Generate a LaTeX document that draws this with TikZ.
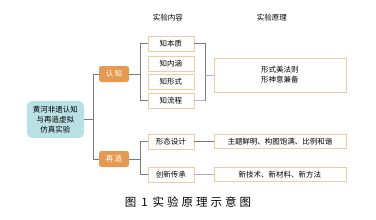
\documentclass[tikz,border=0pt]{standalone}
\usepackage{fontspec}
\newfontfamily\cjk{Noto Sans CJK SC}
\definecolor{boxline}{HTML}{F5C9A2}
\definecolor{boxfill}{HTML}{E59A52}
\definecolor{mainfill}{HTML}{B9E0E4}
\definecolor{connline}{HTML}{7A7A7A}
\definecolor{lavline}{HTML}{B3AEDB}
\tikzset{
    txt/.style={font=\cjk\fontsize{7.5}{10}\selectfont, inner sep=0pt},
    itembox/.style={txt, draw=boxline, line width=0.8pt, fill=white, minimum width=46pt, minimum height=15pt},
    rulebox/.style={txt, draw=boxline, line width=0.8pt, fill=white, minimum width=132pt, minimum height=14pt},
    stagebox/.style={txt, fill=boxfill, text=white, rounded corners=2.5pt, minimum width=30pt, minimum height=16pt},
    conn/.style={draw=connline, line width=0.7pt},
    lav/.style={draw=lavline, line width=0.7pt}
}
\newcommand{\gap}{\hspace{3pt}}
\begin{document}
\begin{tikzpicture}[x=1pt, y=-1pt]
    \useasboundingbox (0,0) rectangle (376,220);

    % column heads
    \node[txt] (headA) at (168,18) {实验内容};
    \node[txt] (headB) at (272,18) {实验原理};

    % main node and the two stages
    \node[txt, fill=mainfill, rounded corners=5pt, minimum width=57pt, minimum height=37pt, align=center] (main) at (55.5,119.5) {黄河非遗认知\\与再造虚拟\\仿真实验};
    \node[stagebox] (renzhi) at (114,74) {认\,知};
    \node[stagebox] (zaizao) at (114,159) {再\,造};

    % content boxes
    \node[itembox] (zbz) at (171,43.5) {知本质};
    \node[itembox] (znh) at (171,63.5) {知内涵};
    \node[itembox] (zxs) at (171,82) {知形式};
    \node[itembox] (zlc) at (171,100.5) {知流程};
    \node[itembox] (xtsj) at (171,141.5) {形态设计};
    \node[itembox] (cxcc) at (171,174.5) {创新传承};

    % principle boxes
    \node[rulebox, minimum height=34pt, align=center] (yl1) at (280,75) {形式美法则\\形神意兼备};
    \node[rulebox] (yl2) at (280,141.5) {主题鲜明、构图饱满、比例和谐};
    \node[rulebox] (yl3) at (280,174.5) {新技术、新材料、新方法};

    % junctions
    \coordinate (j1) at (93,119.5);
    \coordinate (j2) at (140,74);
    \coordinate (j3) at (205,75);
    \coordinate (j4) at (140,159);

    % connectors
    \draw[conn] (main.east) -- (j1);
    \draw[conn] (renzhi.west) -| (j1);
    \draw[conn] (zaizao.west) -| (j1);
    \draw[conn] (renzhi.east) -- (j2);
    \draw[conn] (zbz.west) -| (j2);
    \draw[conn] (zlc.west) -| (j2);
    \draw[conn] (zaizao.east) -- (j4);
    \draw[conn] (xtsj.west) -| (j4);
    \draw[conn] (cxcc.west) -| (j4);
    \draw[conn] (zbz.east) -| (j3 |- zlc.east);
    \draw[lav] (zlc.east) -- (j3 |- zlc.east);
    \draw[lav] (j3) -- (yl1.west);
    \draw[conn] (xtsj.east) -- (yl2.west);
    \draw[conn, draw=connline!60] (cxcc.east) -- (yl3.west);

    % caption
    \node[font=\cjk\fontsize{11.5}{13}\selectfont, inner sep=0pt] (caption) at (188,202.5) {图\hspace{5pt}1\hspace{5pt}实\gap 验\gap 原\gap 理\gap 示\gap 意\gap 图};

\end{tikzpicture}
\end{document}
